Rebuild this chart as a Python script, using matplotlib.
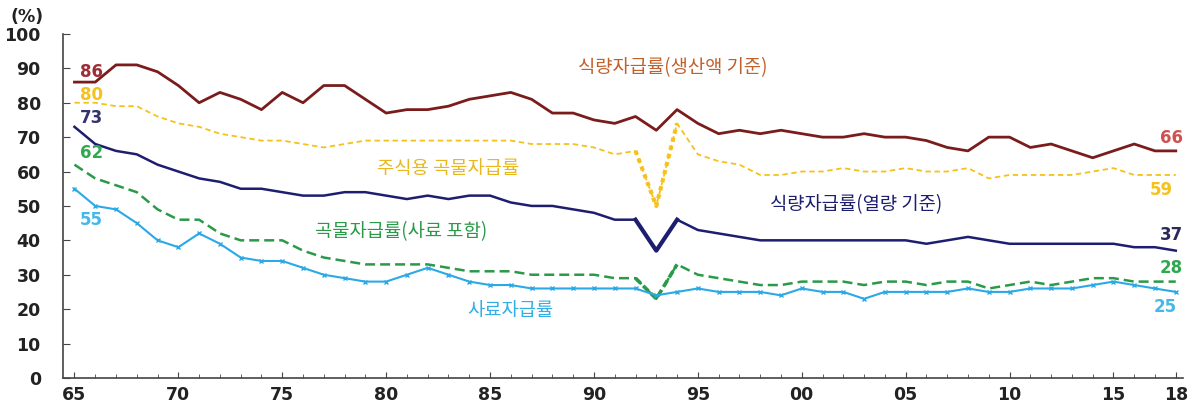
import numpy as np
import matplotlib
matplotlib.use('Agg')
import matplotlib.pyplot as plt

plt.rcParams['font.family'] = ['Noto Sans CJK KR', 'DejaVu Sans']

years = list(range(1965, 2019))

# 식량자급률(생산액 기준)
food_value = [86, 86, 91, 91, 89, 85, 80, 83, 81, 78,
              83, 80, 85, 85, 81, 77, 78, 78, 79, 81,
              82, 83, 81, 77, 77, 75, 74, 76, 72, 78,
              74, 71, 72, 71, 72, 71, 70, 70, 71, 70,
              70, 69, 67, 66, 70, 70, 67, 68, 66, 64,
              66, 68, 66, 66]
# 주식용 곡물자급률
staple = [80, 80, 79, 79, 76, 74, 73, 71, 70, 69,
          69, 68, 67, 68, 69, 69, 69, 69, 69, 69,
          69, 69, 68, 68, 68, 67, 65, 66, 50, 74,
          65, 63, 62, 59, 59, 60, 60, 61, 60, 60,
          61, 60, 60, 61, 58, 59, 59, 59, 59, 60,
          61, 59, 59, 59]
# 식량자급률(열량 기준)
food_cal = [73, 68, 66, 65, 62, 60, 58, 57, 55, 55,
            54, 53, 53, 54, 54, 53, 52, 53, 52, 53,
            53, 51, 50, 50, 49, 48, 46, 46, 37, 46,
            43, 42, 41, 40, 40, 40, 40, 40, 40, 40,
            40, 39, 40, 41, 40, 39, 39, 39, 39, 39,
            39, 38, 38, 37]
# 곡물자급률(사료 포함)
grain = [62, 58, 56, 54, 49, 46, 46, 42, 40, 40,
         40, 37, 35, 34, 33, 33, 33, 33, 32, 31,
         31, 31, 30, 30, 30, 30, 29, 29, 23, 33,
         30, 29, 28, 27, 27, 28, 28, 28, 27, 28,
         28, 27, 28, 28, 26, 27, 28, 27, 28, 29,
         29, 28, 28, 28]
# 사료자급률
feed = [55, 50, 49, 45, 40, 38, 42, 39, 35, 34,
        34, 32, 30, 29, 28, 28, 30, 32, 30, 28,
        27, 27, 26, 26, 26, 26, 26, 26, 24, 25,
        26, 25, 25, 25, 24, 26, 25, 25, 23, 25,
        25, 25, 25, 26, 25, 25, 26, 26, 26, 27,
        28, 27, 26, 25]

tick_years = [1965, 1970, 1975, 1980, 1985, 1990, 1995, 2000, 2005, 2010, 2015, 2018]
tick_labels = ['65', '70', '75', '80', '85', '90', '95', '00', '05', '10', '15', '18']

c_red = '#7a1c1c'
c_yel = '#f5c21b'
c_navy = '#1e1e70'
c_green = '#2a9a48'
c_cyan = '#2aa9e6'

fig = plt.figure(figsize=(11.89, 4.09), dpi=100)
ax = fig.add_axes([0.053, 0.076, 0.942, 0.841])

x = np.array(years)
i92 = years.index(1992)
i94 = years.index(1994)

ax.plot(x, food_value, color=c_red, lw=2.0)
ax.plot(x, staple, color=c_yel, lw=1.3, ls=(0, (3, 2)))
ax.plot(x[i92:i94 + 1], staple[i92:i94 + 1], color=c_yel, lw=3, ls=(0, (1, 1)))
ax.plot(x, food_cal, color=c_navy, lw=1.8)
ax.plot(x[i92:i94 + 1], food_cal[i92:i94 + 1], color=c_navy, lw=3)
ax.plot(x, grain, color=c_green, lw=1.8, ls=(0, (4, 2)))
ax.plot(x[i92:i94 + 1], grain[i92:i94 + 1], color=c_green, lw=2.6, ls=(0, (2, 1)))
ax.plot(x, feed, color=c_cyan, lw=1.5, marker='x', ms=3.5, mew=1)

ax.set_xlim(1964.45, 2018.35)
ax.set_ylim(0, 100)
ax.set_yticks(range(0, 101, 10))
ax.set_xticks(tick_years)
ax.set_xticklabels(tick_labels)
ax.set_xticks(years, minor=True)

for s in ['top', 'right']:
    ax.spines[s].set_visible(False)
for s in ['left', 'bottom']:
    ax.spines[s].set_color('#444444')
    ax.spines[s].set_linewidth(1.2)

ax.tick_params(axis='both', which='both', direction='in', color='#444444')
ax.tick_params(axis='y', length=5, pad=16)
ax.tick_params(axis='x', which='major', length=4, pad=6)
ax.tick_params(axis='x', which='minor', length=3)
for lab in ax.get_yticklabels() + ax.get_xticklabels():
    lab.set_fontweight('bold')
    lab.set_fontsize(12.5)
    lab.set_family(['DejaVu Sans'])
    lab.set_color('#222222')

fig.text(0.009, 0.945, '(%)', fontsize=12.5, fontweight='bold', color='#222222',
         family=['DejaVu Sans'])

# series labels
kw = dict(fontsize=13.5, ha='center', va='center')
ax.text(1993.8, 90.1, '식량자급률(생산액 기준)', color='#c0602a', **kw)
ax.text(1983.0, 61.0, '주식용 곡물자급률', color='#e8b820', **kw)
ax.text(2002.6, 50.3, '식량자급률(열량 기준)', color=c_navy, **kw)
ax.text(1980.7, 42.4, '곡물자급률(사료 포함)', color=c_green, **kw)
ax.text(1986.0, 19.5, '사료자급률', color='#33aee6', **kw)

# start / end values
nk = dict(fontsize=12, fontweight='bold', ha='center', va='center', family=['DejaVu Sans'])
ax.text(1965.8, 89.0, str(food_value[0]), color='#9c2e36', **nk)
ax.text(1965.8, 82.2, str(staple[0]), color=c_yel, **nk)
ax.text(1965.8, 75.6, str(food_cal[0]), color='#33336e', **nk)
ax.text(1965.8, 65.4, str(grain[0]), color='#30a850', **nk)
ax.text(1965.8, 46.0, str(feed[0]), color='#44b8ea', **nk)
ax.text(2017.8, 69.8, str(food_value[-1]), color='#d05050', **nk)
ax.text(2017.3, 54.7, str(staple[-1]), color=c_yel, **nk)
ax.text(2017.8, 41.6, str(food_cal[-1]), color='#2a2a5a', **nk)
ax.text(2017.8, 32.0, str(grain[-1]), color='#30a850', **nk)
ax.text(2017.5, 20.6, str(feed[-1]), color='#44b8ea', **nk)

fig.savefig('out.png', dpi=100)
